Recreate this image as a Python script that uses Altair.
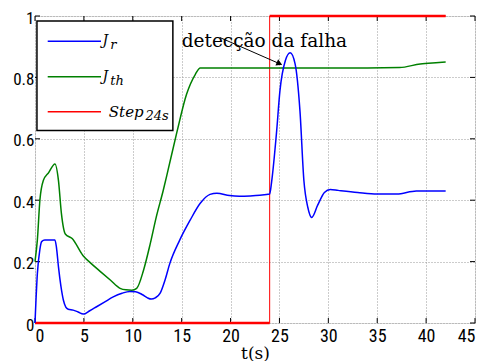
import altair as alt
import pandas as pd

# ---- data ----
t_r = [0, 0.24, 0.5, 0.68, 1.0, 1.5, 2.04, 2.2, 2.4, 2.65, 2.9, 3.15, 3.4, 3.9,
       4.4, 4.94, 5.6, 6.3, 7.1, 8.0, 8.9, 9.7, 10.3, 11.0, 11.5, 11.9, 12.3,
       12.8, 13.3, 13.8, 14.8, 15.85, 16.9, 17.9, 18.6, 19.9, 20.9, 22.0, 23.0,
       24.0, 24.2, 24.7, 25.05, 25.6, 26.1, 26.6, 27.1, 27.5, 27.9, 28.3, 28.9,
       29.6, 30.2, 31.0, 33.0, 35.0, 37.0, 39.0, 40.5, 42.0]
j_r = [0, 0.16, 0.24, 0.265, 0.27, 0.27, 0.27, 0.245, 0.183, 0.12, 0.075,
       0.052, 0.045, 0.042, 0.036, 0.029, 0.04, 0.053, 0.068, 0.085, 0.097,
       0.103, 0.102, 0.092, 0.082, 0.078, 0.082, 0.097, 0.14, 0.195, 0.27,
       0.334, 0.39, 0.419, 0.423, 0.415, 0.413, 0.414, 0.416, 0.42, 0.46, 0.62,
       0.756, 0.854, 0.88, 0.844, 0.69, 0.464, 0.377, 0.344, 0.383, 0.425,
       0.435, 0.432, 0.425, 0.42, 0.42, 0.43, 0.43, 0.43]

t_th = [0, 0.24, 0.5, 0.85, 1.4, 2.04, 2.4, 2.7, 3.1, 3.8, 4.9, 5.7, 6.6, 7.7,
        8.7, 9.3, 9.9, 10.4, 11.1, 11.8, 12.4, 13.1, 13.6, 14.5, 15.5, 16.4,
        16.9, 18.0, 22.0, 26.0, 30.0, 34.0, 37.3, 39.4, 41.0, 42.0]
j_th = [0.2, 0.27, 0.4, 0.464, 0.49, 0.518, 0.464, 0.357, 0.29, 0.275, 0.22,
        0.195, 0.17, 0.14, 0.113, 0.108, 0.107, 0.113, 0.172, 0.26, 0.345, 0.43,
        0.497, 0.62, 0.745, 0.81, 0.831, 0.831, 0.831, 0.831, 0.831, 0.831,
        0.832, 0.844, 0.848, 0.85]

t_step = [0, 24, 24, 42]
step = [0, 0, 1, 1]

x_ticks = [0, 5, 10, 15, 20, 25, 30, 35, 40, 45]
y_ticks = [0, 0.2, 0.4, 0.6, 0.8, 1.0]

legend_names = ["J", "J", "Step"]
legend_subs = ["r", "th", "24s"]
annotation = "detecção da falha"

W, H = 440, 307
BLUE, GREEN, RED = "#0000ff", "#008000", "#ff0000"
SERIF = "DejaVu Serif"
TICKFONT = "Roboto Condensed"

xs = alt.Scale(domain=[0, 45], nice=False)
ys = alt.Scale(domain=[0, 1], nice=False)

x_axis = alt.Axis(values=x_ticks, tickSize=0, labelFont=TICKFONT, labelFontSize=18,
                  labelPadding=4, labelColor="#000", grid=True, gridDash=[1, 2],
                  gridColor="#999", domain=False, title="t(s)", titleFont=SERIF,
                  titleFontSize=17, titleFontWeight="normal", titlePadding=0,
                  titleColor="#000")
y_axis = alt.Axis(values=y_ticks, format="~g", tickSize=0, labelFont=TICKFONT,
                  labelFontSize=17, labelPadding=1, labelOffset=2, labelColor="#000",
                  grid=True, gridDash=[1, 2], gridColor="#999", domain=False, title=None)

df_r = pd.DataFrame({"t": t_r, "v": j_r})
df_th = pd.DataFrame({"t": t_th, "v": j_th})
df_s = pd.DataFrame({"t": t_step, "v": step})

base_axes = alt.Chart(pd.DataFrame({"t": [0], "v": [0]})).mark_point(opacity=0).encode(
    x=alt.X("t:Q", scale=xs, axis=x_axis),
    y=alt.Y("v:Q", scale=ys, axis=y_axis),
)

line_r = alt.Chart(df_r).mark_line(color=BLUE, strokeWidth=1.5, interpolate="monotone").encode(
    x=alt.X("t:Q", scale=xs), y=alt.Y("v:Q", scale=ys))
line_th = alt.Chart(df_th).mark_line(color=GREEN, strokeWidth=1.5, interpolate="monotone").encode(
    x=alt.X("t:Q", scale=xs), y=alt.Y("v:Q", scale=ys))
line_s = alt.Chart(df_s).mark_line(color=RED, strokeWidth=1, clip=False).encode(
    x=alt.X("t:Q", scale=xs), y=alt.Y("v:Q", scale=ys))
line_s_h = alt.Chart(pd.DataFrame({"t": [0, 24], "t2": [24, 42], "v": [0, 1]})).mark_rule(
    color=RED, strokeWidth=2.5).encode(x=alt.X("t:Q", scale=xs), x2="t2:Q", y=alt.Y("v:Q", scale=ys))

xt = pd.DataFrame({"t": x_ticks})
yt = pd.DataFrame({"v": y_ticks})
tick_b = alt.Chart(xt).mark_rule(color="#000").encode(
    x=alt.X("t:Q", scale=xs), y=alt.value(H), y2=alt.value(H - 5))
tick_t = alt.Chart(xt).mark_rule(color="#000").encode(
    x=alt.X("t:Q", scale=xs), y=alt.value(0), y2=alt.value(5))
tick_l = alt.Chart(yt).mark_rule(color="#000").encode(
    y=alt.Y("v:Q", scale=ys), x=alt.value(0), x2=alt.value(5))
tick_r = alt.Chart(yt).mark_rule(color="#000").encode(
    y=alt.Y("v:Q", scale=ys), x=alt.value(W - 5), x2=alt.value(W))

# annotation
ann_text = alt.Chart(pd.DataFrame({"t": [15.0], "v": [0.92], "s": [annotation]})).mark_text(
    align="left", baseline="middle", font=SERIF, fontSize=18.5, color="#000").encode(
    x=alt.X("t:Q", scale=xs), y=alt.Y("v:Q", scale=ys), text="s:N")
ann_line = alt.Chart(pd.DataFrame({"t": [18.9], "t2": [25.2], "v": [0.93], "v2": [0.842]})).mark_rule(
    color="#000", strokeWidth=1).encode(
    x=alt.X("t:Q", scale=xs), x2="t2:Q", y=alt.Y("v:Q", scale=ys), y2="v2:Q")
ann_head = alt.Chart(pd.DataFrame({"t": [25.0], "v": [0.845]})).mark_point(
    shape="triangle-right", filled=True, color="#000", size=45, angle=24, opacity=1).encode(
    x=alt.X("t:Q", scale=xs), y=alt.Y("v:Q", scale=ys))

# manual legend
leg_box = alt.Chart(pd.DataFrame({"t": [0.2], "t2": [14.1], "v": [0.627], "v2": [0.984]})).mark_rect(
    fill="white", stroke="#000", strokeWidth=1.5).encode(
    x=alt.X("t:Q", scale=xs), x2="t2:Q", y=alt.Y("v:Q", scale=ys), y2="v2:Q")
leg_rows = pd.DataFrame({
    "name": legend_names, "sub": legend_subs,
    "v": [0.918, 0.802, 0.688], "color": [BLUE, GREEN, RED],
    "nx": [6.9, 6.9, 7.55], "sx": [7.7, 7.7, 11.3], "fs": [14, 14, 15],
})
leg_lines = alt.Chart(leg_rows).mark_rule(strokeWidth=1.5).encode(
    x=alt.datum(1.3, scale=xs), x2=alt.datum(6.75),
    y=alt.Y("v:Q", scale=ys), color=alt.Color("color:N", scale=None))
leg_names = alt.Chart(leg_rows).mark_text(
    align="left", baseline="middle", font=SERIF, fontStyle="italic",
    color="#000").encode(
    x=alt.X("nx:Q", scale=xs), y=alt.Y("v:Q", scale=ys), text="name:N",
    size=alt.Size("fs:Q", scale=None))
leg_subs = alt.Chart(leg_rows).mark_text(
    align="left", baseline="middle", font=SERIF, fontStyle="italic", fontSize=13,
    color="#000", dy=4).encode(
    x=alt.X("sx:Q", scale=xs), y=alt.Y("v:Q", scale=ys), text="sub:N")

chart = alt.layer(
    base_axes, tick_b, tick_t, tick_l, tick_r,
    line_s, line_s_h, line_th, line_r,
    ann_line, ann_head, ann_text,
    leg_box, leg_lines, leg_names, leg_subs,
).properties(
    width=W, height=H,
    autosize=alt.AutoSizeParams(type="none"),
    padding={"left": 27, "top": 8, "right": 3, "bottom": 38},
).configure_view(stroke="#000", strokeWidth=1.5).configure(background="white")

chart.save("out.html", embed_options={"renderer": "svg", "actions": False})
